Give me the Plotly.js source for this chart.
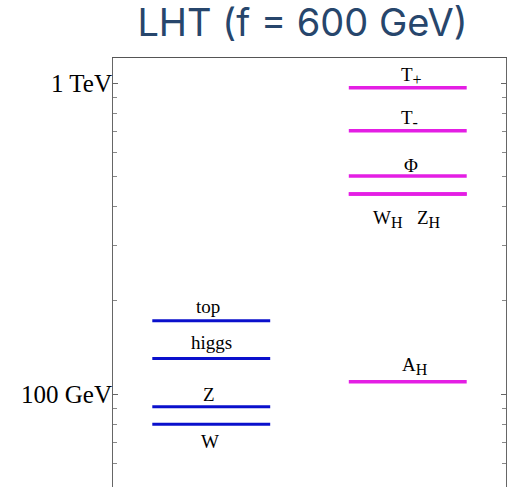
<!DOCTYPE html>
<html>
<head>
<meta charset="utf-8">
<script src="https://cdn.plot.ly/plotly-3.0.1.min.js"></script>
<style>html,body{margin:0;padding:0;background:#fff;}#chart{width:509px;height:487px;}</style>
</head>
<body>
<div id="chart"></div>
<script>
// Standard Model particles (GeV)
const smNames = ["top", "higgs", "Z", "W"];
const smMasses = [172, 130, 91, 80];
// Little Higgs with T-parity partners (GeV), f = 600 GeV
const lhtNames = ["T<sub>+</sub>", "T<sub>-</sub>", "Φ", "W<sub>H</sub>", "Z<sub>H</sub>", "A<sub>H</sub>"];
const lhtMasses = [966, 702, 502, 440, 440, 109.5];
// y-axis ticks
const tickValues = [100, 1000];
const tickLabels = ["100 GeV", "1 TeV"];
const minorTickValues = [60, 70, 80, 90, 200, 300, 400, 500, 600, 700, 800, 900];

// styling / layout (not data)
const smSpan = [0.1, 0.4];
const lhtSpan = [0.6, 0.9];
const smShift = [14, 16, 12, -17];
const smXShift = [-3, 0, -2, -1];
const lhtShift = [12, 11.5, 11, -25, -25, 15.5];
const lhtXShift = [4, 1.5, 3.5, -20, 21, 7];

// enlarge subscript glyphs a little
function bigSub(s) {
  return s.replace(/<sub>(.*?)<\/sub>/g, "<sub><span style=\"font-size:16px\">$1</span></sub>");
}

const traces = [];
smMasses.forEach((m) => {
  traces.push({x: smSpan, y: [m, m], mode: "lines", line: {color: "#0a10cc", width: 3}, hoverinfo: "skip", showlegend: false});
});
lhtMasses.forEach((m) => {
  traces.push({x: lhtSpan, y: [m, m], mode: "lines", line: {color: "#e41ee4", width: 3.5}, hoverinfo: "skip", showlegend: false});
});

const labelFont = {family: "Liberation Serif, Times New Roman, serif", size: 19, color: "#000"};
const annotations = [];
smNames.forEach((n, i) => {
  annotations.push({x: (smSpan[0] + smSpan[1]) / 2, y: Math.log10(smMasses[i]), xref: "x", yref: "y",
    text: n, showarrow: false, xanchor: "center", yanchor: "middle", yshift: smShift[i], xshift: smXShift[i], font: labelFont});
});
lhtNames.forEach((n, i) => {
  annotations.push({x: (lhtSpan[0] + lhtSpan[1]) / 2, y: Math.log10(lhtMasses[i]), xref: "x", yref: "y",
    text: bigSub(n), showarrow: false, xanchor: "center", yanchor: "middle", yshift: lhtShift[i], xshift: lhtXShift[i], font: labelFont});
});

const layout = {
  width: 509, height: 487,
  margin: {l: 113, r: 3, t: 58, b: 0, pad: 0},
  paper_bgcolor: "#fff", plot_bgcolor: "#fff",
  title: {text: "LHT (f = 600 GeV)", x: 302.5 / 509, xanchor: "center", xref: "container",
    y: 1 - 23 / 487, yref: "container", yanchor: "middle",
    font: {family: "Inter, Noto Sans, sans-serif", size: 38, color: "#27466c"}},
  xaxis: {range: [0, 1], showgrid: false, zeroline: false, showticklabels: false, ticks: "",
    showline: true, linecolor: "#555", linewidth: 1, mirror: true, fixedrange: true},
  yaxis: {type: "log", range: [1.701, 3.0804], showgrid: false, zeroline: false,
    tickmode: "array", tickvals: tickValues, ticktext: tickLabels,
    ticks: "inside", ticklen: 5, tickwidth: 1, tickcolor: "#666", ticklabelstandoff: -5,
    showline: true, linecolor: "#666", linewidth: 1, mirror: "ticks",
    tickfont: {family: "Liberation Serif, Times New Roman, serif", size: 25, color: "#000"},
    minor: {tickmode: "array", tickvals: minorTickValues, ticks: "inside", ticklen: 4, tickcolor: "#888", showgrid: false},
    fixedrange: true},
  annotations: annotations
};

Plotly.newPlot("chart", traces, layout, {displayModeBar: false, staticPlot: true});
</script>
</body>
</html>
